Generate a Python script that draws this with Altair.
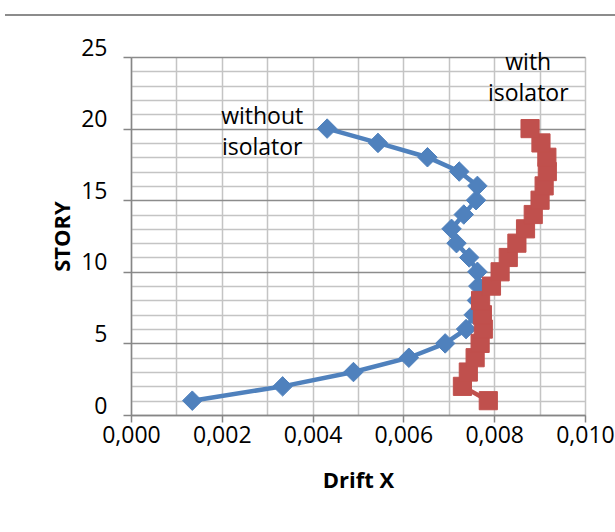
import altair as alt
import pandas as pd

# Inter-story drift in X for each story, with and without base isolation
stories = list(range(1, 21))
drift_without = [0.00135, 0.00334, 0.00490, 0.00612, 0.00692, 0.00738, 0.00755,
                 0.00762, 0.00765, 0.00763, 0.00745, 0.00717, 0.00706, 0.00733,
                 0.00760, 0.00763, 0.00723, 0.00653, 0.00544, 0.00432]
drift_with = [0.00787, 0.00730, 0.00743, 0.00758, 0.00769, 0.00776, 0.00774,
              0.00770, 0.00794, 0.00813, 0.00831, 0.00850, 0.00869, 0.00886,
              0.00901, 0.00910, 0.00917, 0.00916, 0.00903, 0.00879]

x_ticks = [i / 1000 for i in range(0, 11)]
y_ticks = list(range(0, 26))

BLUE = "#4F81BD"
RED = "#C0504D"
FONT = "Open Sans"

df = pd.DataFrame({
    "story": stories * 2,
    "drift": drift_without + drift_with,
    "series": ["without isolator"] * 20 + ["with isolator"] * 20,
})

# series captions, anchored at the centre of their first line
notes = pd.DataFrame({
    "drift": [0.00289, 0.00875],
    "story": [20.8, 24.55],
    "text": [["without", "isolator"], ["with", "isolator"]],
})

x_scale = alt.Scale(domain=[0, 0.010], nice=False, zero=True)
y_scale = alt.Scale(domain=[0, 25], nice=False)

x_axis = alt.Axis(
    values=x_ticks,
    labelExpr="round(datum.value * 1000) % 2 === 0 ? replace(format(datum.value, '.3f'), '.', ',') : ''",
    labelOverlap=False,
    title="Drift X",
    titleFont=FONT, titleFontSize=22, titleFontWeight="bold", titleColor="#000",
    titleX=227, titleY=65, titleBaseline="middle", titleAlign="center",
    labelFont=FONT, labelFontSize=23, labelColor="#000", labelPadding=2,
    labelFlush=False,
    tickSize=7, tickColor="#868686", tickWidth=1.5,
    tickOpacity={"condition": {"test": "round(datum.value * 1000) % 2 === 0", "value": 1}, "value": 0},
    domainColor="#868686", domainWidth=1.5,
    grid=True, gridColor="#c4c4c4", gridWidth=1.5,
)

y_axis = alt.Axis(
    values=y_ticks,
    labelExpr="datum.value % 5 === 0 ? datum.label : ''",
    labelOverlap=False,
    title="STORY",
    titleFont=FONT, titleFontSize=22, titleFontWeight="bold", titleColor="#000",
    titleX=-69, titleY=179, titleAngle=-90, titleBaseline="middle", titleAlign="center",
    labelFont=FONT, labelFontSize=23, labelColor="#000", labelPadding=16,
    labelBaseline="middle", labelOffset=-9, labelFlush=False,
    tickSize=8, tickColor="#868686", tickWidth=1.5,
    tickOpacity={"condition": {"test": "datum.value % 5 === 0", "value": 1}, "value": 0},
    domainColor="#868686", domainWidth=1.5,
    grid=True, gridWidth=1.5,
    gridColor={"condition": {"test": "datum.value % 5 === 0", "value": "#8c8c8c"}, "value": "#c4c4c4"},
)

X = alt.X("drift:Q", scale=x_scale, axis=x_axis)
Y = alt.Y("story:Q", scale=y_scale, axis=y_axis)

base = alt.Chart(df).encode(x=X, y=Y, order="story:Q")


def series_layers(name, color, shape, size):
    sub = base.transform_filter(alt.datum.series == name)
    line = sub.mark_line(color=color, strokeWidth=4.5)
    pts = sub.mark_point(shape=shape, size=size, filled=True, color=color,
                         stroke=color, strokeWidth=1, opacity=1)
    return line + pts


blue = series_layers("without isolator", BLUE, "diamond", 380)
red = series_layers("with isolator", RED, "square", 330)

labels = alt.Chart(notes).mark_text(
    font=FONT, fontSize=23, color="#000", lineHeight=31,
    align="center", baseline="middle",
).encode(x=X, y=Y, text="text")

# thin rule across the top of the figure
top_rule = alt.Chart(pd.DataFrame({"k": [0]})).mark_rule(
    color="#8c8c8c", strokeWidth=2
).encode(
    x=alt.value(-126), x2=alt.value(484), y=alt.value(-42)
)

chart = alt.layer(blue, red, labels, top_rule).properties(
    width=454, height=358,
    autosize=alt.AutoSizeParams(type="none"),
    padding={"left": 131, "top": 57, "right": 30, "bottom": 117},
).configure_view(strokeWidth=0).configure(background="white")

chart.save("out.html", embed_options={"renderer": "svg", "actions": False})
